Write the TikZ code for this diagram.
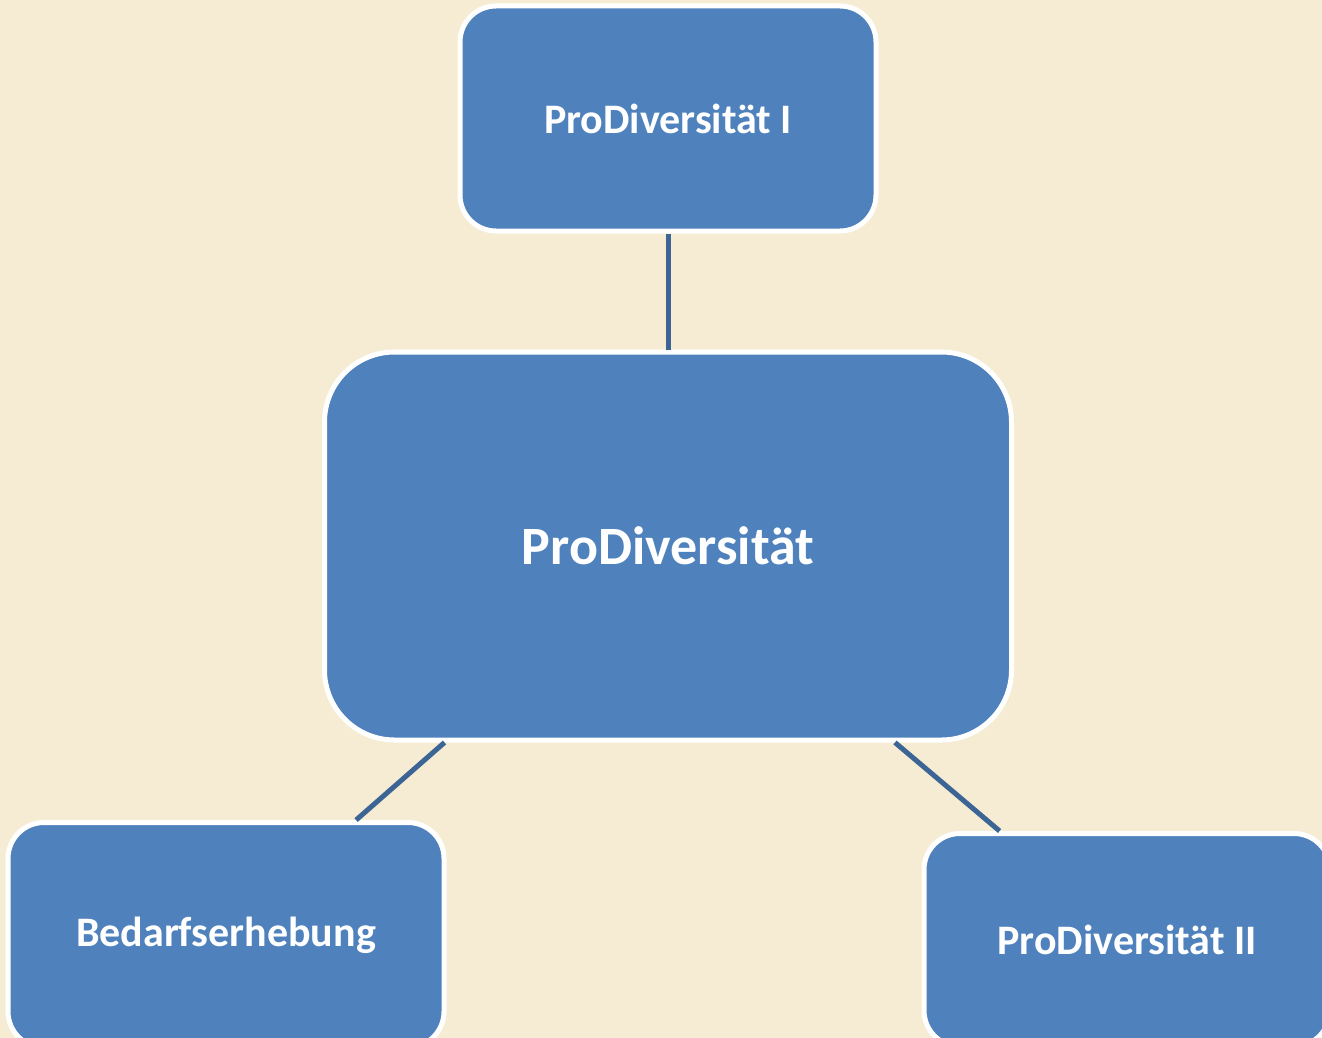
\documentclass[tikz,border=0pt]{standalone}
\usepackage{fontspec}
\setmainfont{Carlito}
\usepackage{xcolor}
\usetikzlibrary{positioning,calc}

\definecolor{bgcream}{HTML}{F5ECD3}
\definecolor{boxblue}{HTML}{4F81BD}
\definecolor{linkblue}{HTML}{3C6494}

\begin{document}
\begin{tikzpicture}[
    x=0.5pt, y=-0.5pt,
    box/.style={rectangle, draw=white, line width=2.5pt, fill=boxblue, rounded corners=18pt,
        minimum width=208pt, minimum height=112.5pt, align=center, text=white,
        font=\fontsize{21}{25}\selectfont\bfseries},
    bigbox/.style={box, rounded corners=35pt, minimum width=343.5pt, minimum height=194pt,
        font=\fontsize{27}{32}\selectfont\bfseries},
    link/.style={draw=linkblue, line width=2.5pt}
]
% Background
\fill[bgcream] (0,0) rectangle (1322,1038);
\useasboundingbox (0,0) rectangle (1322,1038);
\clip (0,0) rectangle (1322,1038);

% Main topic
\node[bigbox] (main) at (668,546) {ProDiversität};

% Project phases
\node[box] (phaseone) at (668,118.5) {ProDiversität I};
\node[box, minimum width=218pt] (survey) at (226,935) {Bedarfserhebung};
\node[box, minimum width=203pt, minimum height=106.5pt] (phasetwo) at (1127,940) {ProDiversität II};

% Links
\draw[link] (phaseone) -- (main);
\draw[link] ($(main.south west)!0.177!(main.south east)$) -- ($(survey.north west)!0.795!(survey.north east)$);
\draw[link] ($(main.south west)!0.828!(main.south east)$) -- ($(phasetwo.north west)!0.19!(phasetwo.north east)$);

\end{tikzpicture}
\end{document}
